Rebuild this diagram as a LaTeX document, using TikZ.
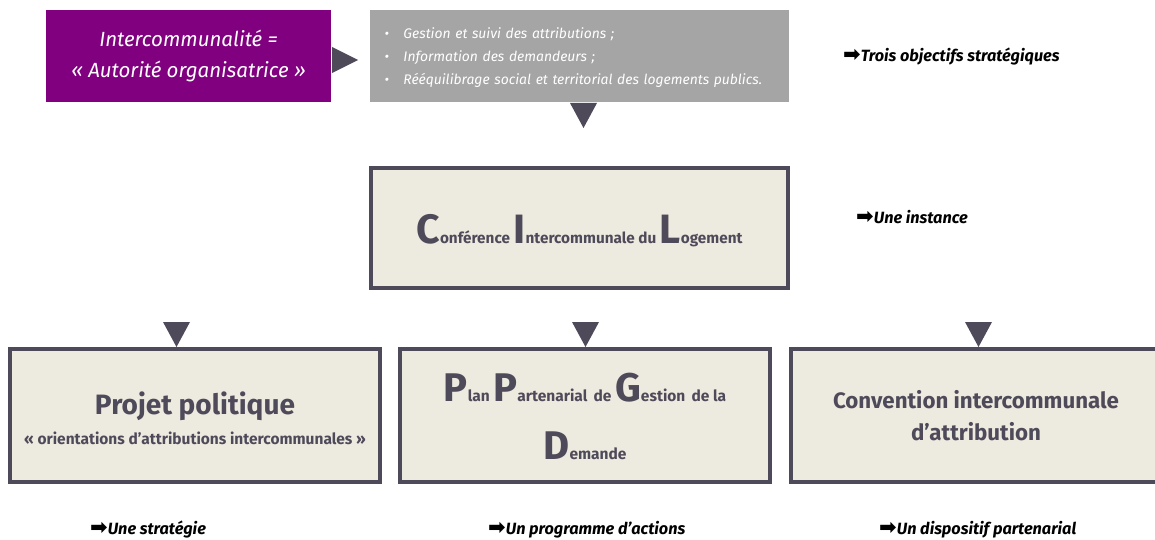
\documentclass[tikz,border=0pt]{standalone}
\usepackage{fontspec}
\setmainfont{Fira Sans}
\newfontfamily\arrowfont{DejaVu Sans}
\usepackage{xcolor}
\usepackage{tikz}
\usetikzlibrary{calc,positioning}

\definecolor{purp}{RGB}{128,0,128}
\definecolor{greybox}{RGB}{165,165,165}
\definecolor{darkline}{RGB}{79,74,89}
\definecolor{paper}{RGB}{237,234,224}

\newcommand{\fs}[1]{\fontsize{#1}{#1}\selectfont}
\newcommand{\goto}{{\arrowfont\fs{21}\char"27A1}}

\begin{document}
\begin{tikzpicture}[x=1pt,y=-1pt,
    pointer/.style={fill=darkline},
    bigbox/.style={draw=darkline, line width=4pt, fill=paper, text=darkline, font=\bfseries, align=center},
    remark/.style={anchor=west, font=\bfseries\itshape\fs{16.3}, inner sep=0pt}]
        \useasboundingbox (0,0) rectangle (1155,540);

        % autorite
        \node[fill=purp, text=white, minimum width=285pt, minimum height=92pt,
              align=center, font=\itshape\fs{20.5}] (autorite) at (188.5,56)
              {Intercommunalité =\\[10pt]« Autorité organisatrice »};
        \fill[pointer] (332,47) -- (358,60) -- (332,73) -- cycle;

        % objectifs
        \node[fill=greybox, text=white, minimum width=419pt, minimum height=92pt, text width=400pt,
              inner xsep=9.5pt, align=left, font=\itshape\fs{13.9}] (objectifs) at (579.5,56)
              {\rule{0pt}{14.5pt}\hspace*{5pt}\makebox[19pt][l]{•}Gestion et suivi des attributions ;\\[8.5pt]
               \hspace*{5pt}\makebox[19pt][l]{•}Information des demandeurs ;\\[8.5pt]
               \hspace*{5pt}\makebox[19pt][l]{•}Rééquilibrage social et territorial des logements publics.};
        \fill[pointer] (570,103) -- (597,103) -- (583.5,128) -- cycle;
        \node[remark] (trois) at (843,57) {\goto Trois objectifs stratégiques};

        % cil
        \node[bigbox, minimum width=417pt, minimum height=120pt] (cil) at (579.5,228)
              {\rule{0pt}{34pt}{\fs{41}C}{\fs{15.3}onférence }{\fs{41}I}{\fs{15.3}ntercommunale du }{\fs{41}L}{\fs{15.3}ogement}};
        \node[remark] (instance) at (856,217) {\goto Une instance};

        % pointers to the three boxes
        \fill[pointer] (163,322) -- (190,322) -- (176.5,347) -- cycle;
        \fill[pointer] (572,322) -- (599,322) -- (585.5,347) -- cycle;
        \fill[pointer] (965,322) -- (992,322) -- (978.5,347) -- cycle;

        % ppol
        \node[bigbox, minimum width=370pt, minimum height=133pt] (ppol) at (195,415.5)
              {\rule{0pt}{29pt}{\fs{28}Projet politique}\\[10pt]{\fs{15.5}« orientations d’attributions intercommunales »}};
        \node[remark] (strategie) at (90,530) {\goto Une stratégie};

        % ppgd
        \node[bigbox, minimum width=370pt, minimum height=133pt] (ppgd) at (585,415.5)
              {\rule{0pt}{30pt}{\fs{40}P}{\fs{15.5}lan }{\fs{40}P}{\fs{15.5}artenarial\, de }{\fs{40}G}{\fs{15.5}estion\, de la}\\[28pt]
               {\fs{40}D}{\fs{15.5}emande}};
        \node[remark] (programme) at (488,530) {\goto Un programme d’actions};

        % cia
        \node[bigbox, minimum width=370pt, minimum height=133pt] (cia) at (976,415.5)
              {\fs{22.3}Convention intercommunale\\[13pt]\fs{22.3}d’attribution};
        \node[remark] (dispositif) at (879,530) {\goto Un dispositif partenarial};
\end{tikzpicture}
\end{document}
